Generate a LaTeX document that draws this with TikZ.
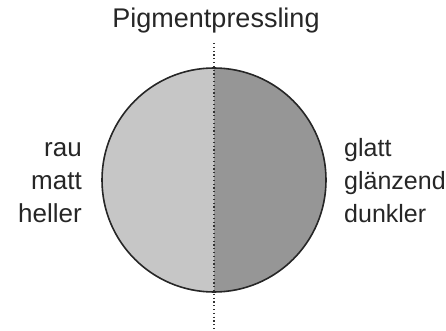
\documentclass[tikz,border=0pt]{standalone}
\usepackage{fontspec}
\setmainfont{Liberation Sans}
\begin{document}
\begin{tikzpicture}[x=1pt,y=-1pt,
  lbl/.style={inner sep=0pt,font=\fontsize{26}{30}\selectfont,text=black!85},
  rlbl/.style={lbl,font=\fontsize{25}{30}\selectfont},
]
\useasboundingbox (0,0) rectangle (446,331);
\coordinate (c) at (214,180);
\fill[gray!45] (214,68) arc[start angle=-90,end angle=-270,radius=112] -- cycle;
\fill[gray!82] (214,68) arc[start angle=-90,end angle=90,radius=112] -- cycle;
\node[circle,draw=black!85,line width=1.6pt,minimum size=224pt,inner sep=0pt] (disk) at (c) {};
\coordinate (ltop) at (214,43);
\coordinate (lbot) at (214,331);
\draw[black!80,line width=1.2pt,dash pattern=on 1.2pt off 2.6pt] (ltop) -- (lbot);
\node[lbl,anchor=base,font=\fontsize{27}{30}\selectfont] (title) at (216,28) {Pigmentpressling};
\node[lbl,anchor=base east] (l1) at (82,156) {rau};
\node[lbl,anchor=base east] (l2) at (82,189) {matt};
\node[lbl,anchor=base east] (l3) at (82,222) {heller};
\node[rlbl,anchor=base west] (r1) at (344,156) {glatt};
\node[rlbl,anchor=base west] (r2) at (344,189) {glänzend};
\node[rlbl,anchor=base west] (r3) at (344,222) {dunkler};
\end{tikzpicture}
\end{document}
